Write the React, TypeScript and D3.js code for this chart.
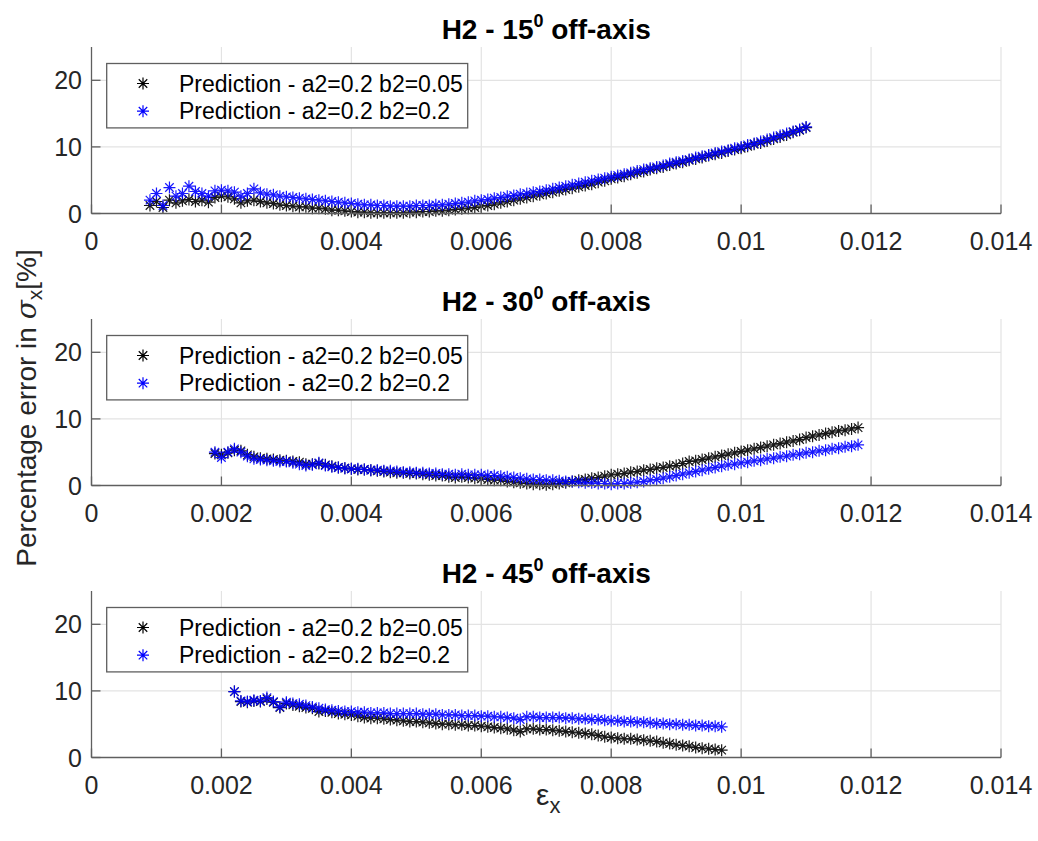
import React from 'react';
import * as d3 from 'd3';

// ---------- data (strain εx, percentage error in σx) ----------
const strain15 = [
  0.0009, 0.0010, 0.0011, 0.0012, 0.0013, 0.0014, 0.0015, 0.0016, 0.0017, 0.0018,
  0.0019, 0.0020, 0.0021, 0.0022, 0.0023, 0.0024, 0.0025, 0.0026, 0.0027, 0.0028,
  0.0029, 0.0030, 0.0031, 0.0032, 0.0033, 0.0034, 0.0035, 0.0036, 0.0037, 0.0038,
  0.0039, 0.0040, 0.0041, 0.0042, 0.0043, 0.0044, 0.0045, 0.0046, 0.0047, 0.0048,
  0.0049, 0.0050, 0.0051, 0.0052, 0.0053, 0.0054, 0.0055, 0.0056, 0.0057, 0.0058,
  0.0059, 0.0060, 0.0061, 0.0062, 0.0063, 0.0064, 0.0065, 0.0066, 0.0067, 0.0068,
  0.0069, 0.0070, 0.0071, 0.0072, 0.0073, 0.0074, 0.0075, 0.0076, 0.0077, 0.0078,
  0.0079, 0.0080, 0.0081, 0.0082, 0.0083, 0.0084, 0.0085, 0.0086, 0.0087, 0.0088,
  0.0089, 0.0090, 0.0091, 0.0092, 0.0093, 0.0094, 0.0095, 0.0096, 0.0097, 0.0098,
  0.0099, 0.0100, 0.0101, 0.0102, 0.0103, 0.0104, 0.0105, 0.0106, 0.0107, 0.0108,
  0.0109, 0.0110,
];
const err15_b005 = [
  1.2, 1.8, 0.9, 2.0, 1.6, 1.9, 2.1, 1.8, 2.0, 1.7,
  2.4, 2.6, 2.5, 2.2, 1.6, 1.9, 2.0, 1.8, 1.6, 1.5,
  1.3, 1.2, 1.1, 1.0, 1.0, 0.8, 0.8, 0.7, 0.5, 0.5,
  0.4, 0.3, 0.2, 0.2, 0.1, 0.1, 0.1, 0.1, 0.1, 0.1,
  0.2, 0.2, 0.3, 0.3, 0.4, 0.4, 0.5, 0.6, 0.7, 0.8,
  0.9, 1.1, 1.2, 1.4, 1.6, 1.8, 2.0, 2.2, 2.4, 2.6,
  2.8, 3.0, 3.2, 3.4, 3.6, 3.8, 4.0, 4.2, 4.4, 4.7,
  4.9, 5.2, 5.4, 5.6, 5.9, 6.1, 6.3, 6.6, 6.8, 7.0,
  7.3, 7.5, 7.7, 8.0, 8.2, 8.4, 8.7, 8.9, 9.1, 9.4,
  9.6, 9.8, 10.1, 10.4, 10.6, 10.9, 11.2, 11.5, 11.8, 12.2,
  12.5, 12.9,
];
const err15_b02 = [
  2.0, 3.0, 1.2, 3.9, 2.6, 3.0, 4.1, 3.3, 3.0, 2.6,
  3.4, 3.5, 3.4, 3.2, 2.6, 3.0, 3.7, 3.1, 2.9, 2.8,
  2.6, 2.5, 2.4, 2.3, 2.2, 2.1, 2.0, 1.9, 1.8, 1.7,
  1.6, 1.5, 1.4, 1.3, 1.3, 1.2, 1.2, 1.1, 1.1, 1.1,
  1.1, 1.2, 1.2, 1.2, 1.3, 1.3, 1.4, 1.5, 1.6, 1.7,
  1.9, 2.0, 2.1, 2.3, 2.4, 2.6, 2.7, 2.9, 3.0, 3.2,
  3.3, 3.5, 3.7, 3.9, 4.1, 4.3, 4.5, 4.7, 4.9, 5.1,
  5.3, 5.5, 5.7, 5.9, 6.1, 6.4, 6.6, 6.8, 7.0, 7.2,
  7.5, 7.7, 7.9, 8.1, 8.4, 8.6, 8.8, 9.1, 9.3, 9.5,
  9.8, 10.0, 10.3, 10.5, 10.8, 11.1, 11.4, 11.7, 12.0, 12.3,
  12.6, 13.0,
];

const strain30 = [
  0.0019, 0.0020, 0.0021, 0.0022, 0.0023, 0.0024, 0.0025, 0.0026, 0.0027, 0.0028,
  0.0029, 0.0030, 0.0031, 0.0032, 0.0033, 0.0034, 0.0035, 0.0036, 0.0037, 0.0038,
  0.0039, 0.0040, 0.0041, 0.0042, 0.0043, 0.0044, 0.0045, 0.0046, 0.0047, 0.0048,
  0.0049, 0.0050, 0.0051, 0.0052, 0.0053, 0.0054, 0.0055, 0.0056, 0.0057, 0.0058,
  0.0059, 0.0060, 0.0061, 0.0062, 0.0063, 0.0064, 0.0065, 0.0066, 0.0067, 0.0068,
  0.0069, 0.0070, 0.0071, 0.0072, 0.0073, 0.0074, 0.0075, 0.0076, 0.0077, 0.0078,
  0.0079, 0.0080, 0.0081, 0.0082, 0.0083, 0.0084, 0.0085, 0.0086, 0.0087, 0.0088,
  0.0089, 0.0090, 0.0091, 0.0092, 0.0093, 0.0094, 0.0095, 0.0096, 0.0097, 0.0098,
  0.0099, 0.0100, 0.0101, 0.0102, 0.0103, 0.0104, 0.0105, 0.0106, 0.0107, 0.0108,
  0.0109, 0.0110, 0.0111, 0.0112, 0.0113, 0.0114, 0.0115, 0.0116, 0.0117, 0.0118,
];
const err30_b005 = [
  4.8, 4.6, 4.9, 5.3, 5.2, 4.6, 4.3, 4.1, 4.0, 3.9,
  3.8, 3.7, 3.6, 3.5, 3.2, 3.2, 3.3, 3.1, 2.9, 2.7,
  2.6, 2.5, 2.4, 2.4, 2.3, 2.2, 2.1, 2.0, 1.9, 1.9,
  1.8, 1.8, 1.7, 1.6, 1.5, 1.5, 1.3, 1.2, 1.3, 1.2,
  1.1, 1.0, 0.9, 0.8, 0.8, 0.6, 0.5, 0.4, 0.3, 0.2,
  0.2, 0.1, 0.2, 0.3, 0.4, 0.6, 0.8, 0.9, 1.1, 1.2,
  1.4, 1.6, 1.7, 1.8, 2.0, 2.1, 2.3, 2.4, 2.6, 2.7,
  2.9, 3.0, 3.3, 3.6, 3.7, 3.9, 4.1, 4.3, 4.5, 4.7,
  4.9, 5.1, 5.3, 5.5, 5.7, 5.9, 6.1, 6.3, 6.5, 6.7,
  6.9, 7.2, 7.4, 7.6, 7.8, 8.0, 8.2, 8.3, 8.5, 8.7,
];
const err30_b02 = [
  5.0, 4.2, 5.0, 5.5, 5.0, 4.4, 4.0, 3.9, 3.8, 3.7,
  3.6, 3.6, 3.4, 3.2, 3.0, 3.1, 3.4, 3.0, 2.8, 2.7,
  2.6, 2.5, 2.5, 2.4, 2.3, 2.3, 2.2, 2.2, 2.1, 2.0,
  2.0, 1.9, 1.9, 1.8, 1.8, 1.7, 1.7, 1.6, 1.7, 1.6,
  1.6, 1.6, 1.5, 1.5, 1.4, 1.3, 1.2, 1.1, 1.0, 0.9,
  0.9, 0.8, 0.8, 0.7, 0.6, 0.6, 0.5, 0.4, 0.4, 0.3,
  0.3, 0.2, 0.3, 0.3, 0.4, 0.5, 0.6, 0.8, 0.9, 1.1,
  1.3, 1.5, 1.7, 1.9, 2.1, 2.3, 2.5, 2.7, 2.9, 3.1,
  3.2, 3.4, 3.5, 3.7, 3.8, 4.0, 4.1, 4.3, 4.4, 4.6,
  4.7, 4.9, 5.0, 5.2, 5.3, 5.5, 5.6, 5.8, 5.9, 6.1,
];

const strain45 = [
  0.0022, 0.0023, 0.0024, 0.0025, 0.0026, 0.0027, 0.0028, 0.0029, 0.0030, 0.0031,
  0.0032, 0.0033, 0.0034, 0.0035, 0.0036, 0.0037, 0.0038, 0.0039, 0.0040, 0.0041,
  0.0042, 0.0043, 0.0044, 0.0045, 0.0046, 0.0047, 0.0048, 0.0049, 0.0050, 0.0051,
  0.0052, 0.0053, 0.0054, 0.0055, 0.0056, 0.0057, 0.0058, 0.0059, 0.0060, 0.0061,
  0.0062, 0.0063, 0.0064, 0.0065, 0.0066, 0.0067, 0.0068, 0.0069, 0.0070, 0.0071,
  0.0072, 0.0073, 0.0074, 0.0075, 0.0076, 0.0077, 0.0078, 0.0079, 0.0080, 0.0081,
  0.0082, 0.0083, 0.0084, 0.0085, 0.0086, 0.0087, 0.0088, 0.0089, 0.0090, 0.0091,
  0.0092, 0.0093, 0.0094, 0.0095, 0.0096, 0.0097,
];
const err45_b005 = [
  9.9, 8.4, 8.3, 8.5, 8.4, 8.8, 8.3, 7.5, 8.1, 7.9,
  7.7, 7.5, 7.4, 6.9, 7.0, 6.8, 6.6, 6.5, 6.4, 6.2,
  6.0, 5.9, 5.9, 5.8, 5.7, 5.6, 5.5, 5.4, 5.4, 5.3,
  5.2, 5.1, 5.0, 5.0, 4.9, 4.9, 4.8, 4.8, 4.7, 4.6,
  4.5, 4.4, 4.3, 4.1, 3.9, 4.3, 4.3, 4.2, 4.2, 4.1,
  4.0, 3.9, 3.8, 3.7, 3.6, 3.5, 3.3, 3.1, 3.0, 2.9,
  2.8, 2.8, 2.7, 2.6, 2.5, 2.4, 2.2, 2.1, 1.9, 1.8,
  1.7, 1.5, 1.4, 1.3, 1.2, 1.1,
];
const err45_b02 = [
  9.9, 8.5, 8.4, 8.6, 8.5, 9.0, 8.4, 7.6, 8.3, 8.1,
  8.0, 7.8, 7.6, 7.4, 7.2, 7.1, 7.0, 6.9, 6.9, 6.8,
  6.8, 6.7, 6.7, 6.7, 6.6, 6.6, 6.6, 6.6, 6.6, 6.5,
  6.5, 6.5, 6.4, 6.4, 6.4, 6.3, 6.3, 6.3, 6.2, 6.2,
  6.1, 6.1, 6.0, 5.9, 5.7, 6.1, 6.1, 6.0, 6.0, 6.0,
  6.0, 5.9, 5.9, 5.8, 5.8, 5.7, 5.7, 5.6, 5.5, 5.5,
  5.4, 5.4, 5.3, 5.3, 5.2, 5.1, 5.1, 5.0, 5.0, 4.9,
  4.9, 4.8, 4.8, 4.7, 4.7, 4.6,
];

const angles = ['15', '30', '45'];
const xTicks = [0, 0.002, 0.004, 0.006, 0.008, 0.01, 0.012, 0.014];
const xTickLabels = ['0', '0.002', '0.004', '0.006', '0.008', '0.01', '0.012', '0.014'];
const yTicks = [0, 10, 20];
const yTickLabels = ['0', '10', '20'];
const legendLabels = ['Prediction - a2=0.2 b2=0.05', 'Prediction - a2=0.2 b2=0.2'];
const seriesColors = ['#000000', '#0000ff'];

const panels = [
  { angle: angles[0], x: strain15, series: [err15_b005, err15_b02] },
  { angle: angles[1], x: strain30, series: [err30_b005, err30_b02] },
  { angle: angles[2], x: strain45, series: [err45_b005, err45_b02] },
];

// ---------- layout ----------
const W = 1038;
const H = 841;
const LEFT = 91.5;
const RIGHT = 1001;
const TOPS = [47, 319, 591];
const PH = 166.5;
const FONT = "'Liberation Sans', Arial, Helvetica, sans-serif";
const AXC = '#5f5f5f';
const TXT = '#262626';
const GRID = '#e3e3e3';

const asterisk = (r: number) => {
  const d = r * 0.7071;
  return `M${-r},0H${r}M0,${-r}V${r}M${-d},${-d}L${d},${d}M${-d},${d}L${d},${-d}`;
};
const MARK = asterisk(6);

function Panel({ p, top }: { p: typeof panels[number]; top: number }) {
  const x = d3.scaleLinear().domain([0, 0.014]).range([LEFT, RIGHT]);
  const y = d3.scaleLinear().domain([0, 25]).range([top + PH, top]);
  const y0 = y(0);
  const lx = LEFT + 15.2;
  const ly = top + 16.5;
  return (
    <g>
      {xTicks.slice(1).map((t) => (
        <line key={'gx' + t} x1={x(t)} x2={x(t)} y1={y(25)} y2={y0} stroke={GRID} strokeWidth={1.2} />
      ))}
      {yTicks.slice(1).map((t) => (
        <line key={'gy' + t} x1={LEFT} x2={RIGHT} y1={y(t)} y2={y(t)} stroke={GRID} strokeWidth={1.2} />
      ))}
      {p.series.map((s, si) => (
        <g key={'s' + si} stroke={seriesColors[si]} strokeWidth={1.2} fill="none" opacity={0.9}>
          {s.map((v, i) => (
            <path key={i} d={MARK} transform={`translate(${x(p.x[i])},${y(v)})`} />
          ))}
        </g>
      ))}
      <line x1={LEFT} x2={RIGHT} y1={y0} y2={y0} stroke={AXC} strokeWidth={1.3} />
      <line x1={LEFT} x2={LEFT} y1={y(25)} y2={y0} stroke={AXC} strokeWidth={1.3} />
      {xTicks.map((t, i) => (
        <g key={'xt' + t}>
          <line x1={x(t)} x2={x(t)} y1={y0} y2={y0 - 9} stroke={AXC} strokeWidth={1.3} />
          <text x={x(t)} y={y0 + 36} textAnchor="middle" fontSize={25} fill={TXT} fontFamily={FONT}>
            {xTickLabels[i]}
          </text>
        </g>
      ))}
      {yTicks.map((t, i) => (
        <g key={'yt' + t}>
          <line x1={LEFT} x2={LEFT + 9} y1={y(t)} y2={y(t)} stroke={AXC} strokeWidth={1.3} />
          <text x={LEFT - 9.5} y={y(t) + 9} textAnchor="end" fontSize={25} fill={TXT} fontFamily={FONT}>
            {yTickLabels[i]}
          </text>
        </g>
      ))}
      <rect x={lx} y={ly} width={361} height={64.4} fill="#fff" stroke={AXC} strokeWidth={1.3} />
      {legendLabels.map((lab, i) => {
        const ry = ly + 20 + i * 27.7;
        return (
          <g key={'lg' + i}>
            <path d={MARK} transform={`translate(${lx + 36.3},${ry})`} stroke={seriesColors[i]} strokeWidth={1.2} fill="none" />
            <text x={lx + 72.3} y={ry + 8} fontSize={23} fill="#000" fontFamily={FONT}>
              {lab}
            </text>
          </g>
        );
      })}
      <text x={(LEFT + RIGHT) / 2} y={top - 7.7} textAnchor="middle" fontSize={28} fontWeight="bold" fill="#000" fontFamily={FONT}>
        <tspan>{'H2 - ' + p.angle}</tspan>
        <tspan dy={-12} fontSize={18}>0</tspan>
        <tspan dy={12}>{' off-axis'}</tspan>
      </text>
    </g>
  );
}

export default function App() {
  return (
    <svg width={W} height={H} style={{ position: 'absolute', left: 0, top: 0, background: '#fff' }}>
      <rect x={0} y={0} width={W} height={H} fill="#fff" />
      {panels.map((p, i) => (
        <Panel key={i} p={p} top={TOPS[i]} />
      ))}
      <text transform="translate(36,408) rotate(-90)" textAnchor="middle" fontSize={28} fill={TXT} fontFamily={FONT}>
        <tspan>Percentage error in </tspan>
        <tspan fontStyle="italic" fontFamily="'DejaVu Serif', serif">σ</tspan>
        <tspan dy={6} fontSize={21}>x</tspan>
        <tspan dy={-6}>[%]</tspan>
      </text>
      <text x={536} y={805} fontSize={30} fill={TXT} fontFamily={FONT}>
        <tspan>ε</tspan>
        <tspan dy={8} fontSize={22}>x</tspan>
      </text>
    </svg>
  );
}
